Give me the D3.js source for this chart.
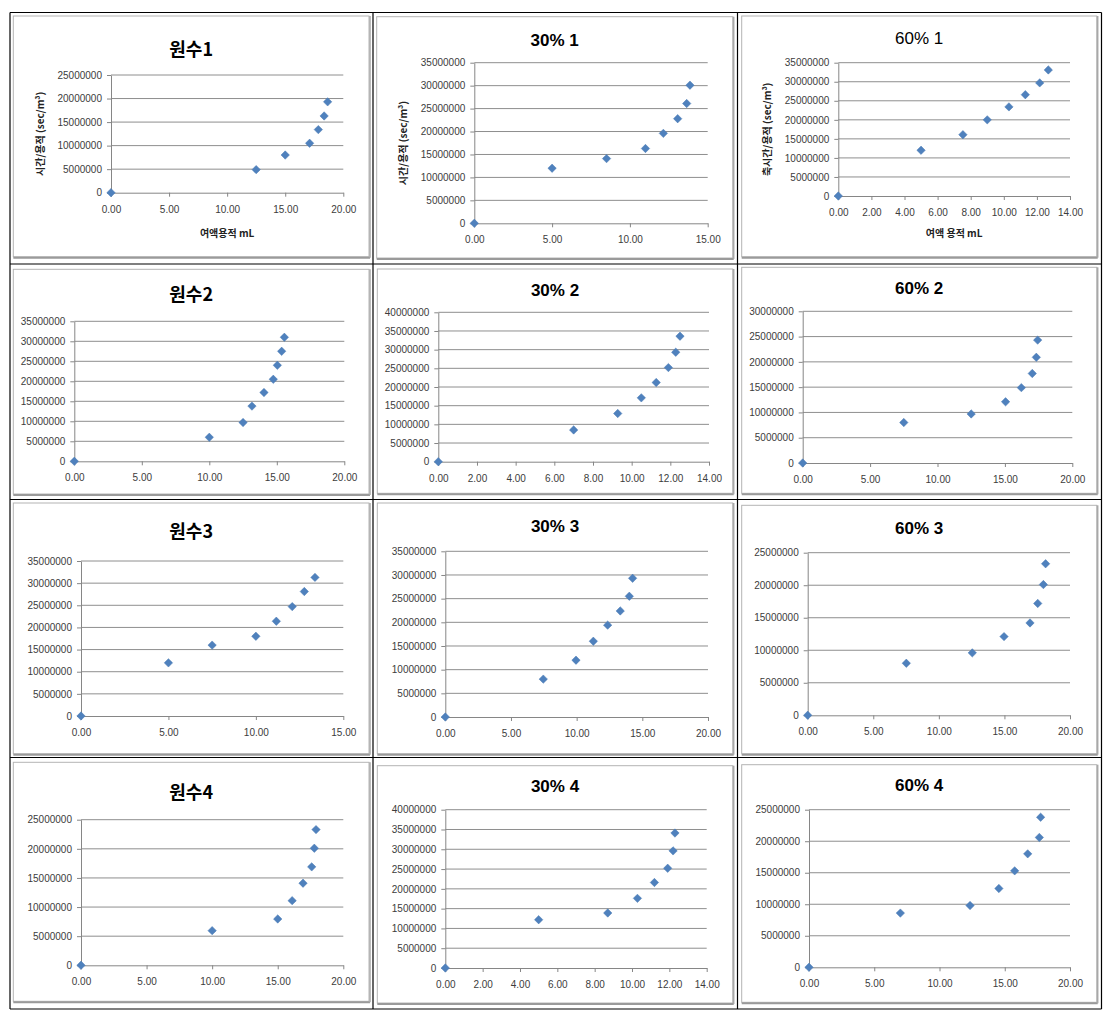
<!DOCTYPE html>
<html><head><meta charset="utf-8">
<script src="https://cdn.jsdelivr.net/npm/d3@7"></script>
<style>body{margin:0;background:#fff}svg{display:block}</style>
</head><body>
<svg id="c" width="1111" height="1015"></svg>
<script>
// ---------- DATA ----------
const titles = ["원수1","30% 1","60% 1","원수2","30% 2","60% 2","원수3","30% 3","60% 3","원수4","30% 4","60% 4"];

const w1_x = [0, 12.5, 15.0, 17.1, 17.85, 18.35, 18.65];
const w1_y = [0, 4.9e6, 8.0e6, 10.5e6, 13.4e6, 16.3e6, 19.3e6];

const c30_1_x = [0, 5.0, 8.5, 11.0, 12.15, 13.07, 13.65, 13.86];
const c30_1_y = [0, 12.0e6, 14.1e6, 16.3e6, 19.6e6, 22.8e6, 26.1e6, 30.1e6];

const c60_1_x = [0, 5.0, 7.53, 9.0, 10.31, 11.3, 12.17, 12.69];
const c60_1_y = [0, 12.0e6, 16.1e6, 20.0e6, 23.4e6, 26.6e6, 29.7e6, 33.1e6];

const w2_x = [0, 10.0, 12.5, 13.16, 14.05, 14.74, 15.04, 15.36, 15.56];
const w2_y = [0, 6.0e6, 9.7e6, 13.8e6, 17.2e6, 20.5e6, 24.0e6, 27.5e6, 31.0e6];

const c30_2_x = [0, 7.0, 9.28, 10.5, 11.27, 11.9, 12.28, 12.5];
const c30_2_y = [0, 8.5e6, 12.9e6, 17.1e6, 21.2e6, 25.2e6, 29.3e6, 33.6e6];

const c60_2_x = [0, 7.5, 12.5, 15.05, 16.22, 17.03, 17.33, 17.43];
const c60_2_y = [0, 8.0e6, 9.7e6, 12.1e6, 14.9e6, 17.7e6, 20.9e6, 24.3e6];

const w3_x = [0, 5.0, 7.5, 10.0, 11.17, 12.08, 12.77, 13.38];
const w3_y = [0, 12.0e6, 16.0e6, 18.0e6, 21.4e6, 24.7e6, 28.1e6, 31.3e6];

const c30_3_x = [0, 7.46, 9.95, 11.27, 12.36, 13.32, 14.01, 14.26];
const c30_3_y = [0, 8.0e6, 12.0e6, 16.0e6, 19.4e6, 22.4e6, 25.5e6, 29.3e6];

const c60_3_x = [0, 7.52, 12.55, 14.97, 16.95, 17.54, 17.97, 18.14];
const c60_3_y = [0, 8.0e6, 9.6e6, 12.1e6, 14.2e6, 17.2e6, 20.1e6, 23.3e6];

const w4_x = [0, 10.0, 15.0, 16.1, 16.93, 17.59, 17.79, 17.92];
const w4_y = [0, 5.95e6, 7.95e6, 11.1e6, 14.1e6, 16.9e6, 20.1e6, 23.3e6];

const c30_4_x = [0, 5.0, 8.7, 10.29, 11.2, 11.91, 12.2, 12.3];
const c30_4_y = [0, 12.2e6, 13.9e6, 17.6e6, 21.6e6, 25.2e6, 29.6e6, 34.1e6];

const c60_4_x = [0, 7.0, 12.34, 14.55, 15.76, 16.76, 17.65, 17.75];
const c60_4_y = [0, 8.6e6, 9.8e6, 12.5e6, 15.3e6, 18.0e6, 20.6e6, 23.8e6];

const seriesX = [w1_x, c30_1_x, c60_1_x, w2_x, c30_2_x, c60_2_x, w3_x, c30_3_x, c60_3_x, w4_x, c30_4_x, c60_4_x];
const seriesY = [w1_y, c30_1_y, c60_1_y, w2_y, c30_2_y, c60_2_y, w3_y, c30_3_y, c60_3_y, w4_y, c30_4_y, c60_4_y];

// axis tick settings
const xMax  = [20, 15, 14, 20, 14, 20, 15, 20, 20, 20, 14, 20];
const xStep = [5, 5, 2, 5, 2, 5, 5, 5, 5, 5, 2, 5];
const yMax  = [25e6, 35e6, 35e6, 35e6, 40e6, 30e6, 35e6, 35e6, 25e6, 25e6, 40e6, 25e6];
const yStep = 5e6;

// axis titles (only on some panels)
const yTitles = ["시간/용적 (sec/m³)", "시간/용적 (sec/m³)", "축시간/용적 (sec/m³)", null, null, null, null, null, null, null, null, null];
const xTitles = ["여액용적 mL", null, "여액 용적 mL", null, null, null, null, null, null, null, null, null];

// ---------- LAYOUT (positions only) ----------
// [chartX0, chartY0, chartX1, chartY1, plotL, plotR, plotT, plotB, titleY]
const layout = [
  [13.3, 16, 369, 256.7,    111, 343.3, 75, 192.7,     50],
  [376.7, 16.7, 732.7, 258, 474.3, 707.7, 62.7, 223.3, 40],
  [741.7, 16, 1096.7, 256.7, 838.3, 1070, 62.7, 196,   38],
  [13.3, 269.3, 369, 494,   74.3, 344.3, 321.3, 461.3, 295],
  [377.3, 269, 732.7, 493.3, 438.3, 709, 312.3, 461.7, 290],
  [741.7, 267.3, 1096.7, 493.3, 802.7, 1072.3, 311.3, 463, 288.3],
  [13.3, 503, 369, 753.7,   81, 343.3, 561, 716,       532],
  [377.3, 503, 732.7, 753.7, 445.3, 708, 551.3, 717,  526.3],
  [741.7, 505.3, 1096.7, 753.7, 807.7, 1070, 552.7, 715.3, 527.7],
  [13.3, 762.3, 369, 1001.3, 81, 343.3, 819.7, 965.3, 793],
  [377.3, 765.7, 732.7, 1003, 445.3, 706.7, 809.7, 968, 786.3],
  [741.7, 764.7, 1096.7, 1002.3, 809, 1070, 809.7, 967.3, 785.3]
];
const tableX = [10, 373, 737.5, 1101.5];
const tableY = [12.5, 264, 499.5, 757.5, 1009];

const svg = d3.select("#c");
const latin = "'Liberation Sans', Arial, 'Noto Sans CJK KR', sans-serif";
const kor = "'Noto Sans CJK KR', 'Liberation Sans', sans-serif";

titles.forEach((t, i) => {
  const [cx0, cy0, cx1, cy1, pl, pr, pt, pb, ty] = layout[i];
  const g = svg.append("g");

  // chart area border
  g.append("rect").attr("x", cx0).attr("y", cy0).attr("width", cx1 - cx0).attr("height", cy1 - cy0)
    .attr("fill", "#fff").attr("stroke", "#b4b4b4").attr("stroke-width", 1);
  g.append("line").attr("x1", cx0).attr("x2", cx1 + 1).attr("y1", cy1 + 1).attr("y2", cy1 + 1)
    .attr("stroke", "#9a9a9a").attr("stroke-width", 2);
  g.append("line").attr("x1", cx1 + 1).attr("x2", cx1 + 1).attr("y1", cy0).attr("y2", cy1 + 1)
    .attr("stroke", "#a8a8a8").attr("stroke-width", 1.5);

  const x = d3.scaleLinear().domain([0, xMax[i]]).range([pl, pr]);
  const y = d3.scaleLinear().domain([0, yMax[i]]).range([pb, pt]);
  const xt = d3.range(0, xMax[i] + 1e-9, xStep[i]);
  const yt = d3.range(0, yMax[i] + 1, yStep);

  // gridlines
  g.append("g").selectAll("line").data(yt.slice(1)).join("line")
    .attr("x1", pl).attr("x2", pr).attr("y1", d => y(d)).attr("y2", d => y(d))
    .attr("stroke", "#8e8e8e").attr("stroke-width", 1);

  // axes
  const ya = g.append("g").attr("transform", `translate(${pl},0)`)
    .call(d3.axisLeft(y).tickValues(yt).tickFormat(d3.format("d")).tickSize(4).tickSizeOuter(0).tickPadding(5));
  const xa = g.append("g").attr("transform", `translate(0,${pb})`)
    .call(d3.axisBottom(x).tickValues(xt).tickFormat(d3.format(".2f")).tickSize(4).tickSizeOuter(0).tickPadding(9));
  [ya, xa].forEach(a => {
    a.select(".domain").attr("stroke", "#868686");
    a.selectAll(".tick line").attr("stroke", "#868686");
    a.selectAll(".tick text").attr("font-family", latin).attr("font-size", 10).attr("fill", "#3c3c3c");
  });

  // title
  const isKor = /[\uAC00-\uD7AF]/.test(t);
  g.append("text").attr("x", (cx0 + cx1) / 2).attr("y", ty).attr("dy", "0.36em")
    .attr("text-anchor", "middle")
    .attr("font-family", isKor ? kor : latin)
    .attr("font-size", isKor ? 18 : 17)
    .attr("font-weight", i === 2 ? "normal" : "bold")
    .attr("fill", "#000").text(t);

  // axis titles
  if (yTitles[i]) {
    const xPos = [40, 403, 767][i];
    g.append("text").attr("transform", `translate(${xPos},${(pt + pb) / 2}) rotate(-90)`)
      .attr("dy", "0.35em").attr("text-anchor", "middle")
      .attr("font-family", kor).attr("font-size", 10).attr("font-weight", "bold").attr("fill", "#222")
      .text(yTitles[i]);
  }
  if (xTitles[i]) {
    g.append("text").attr("x", (pl + pr) / 2).attr("y", 233).attr("dy", "0.35em")
      .attr("text-anchor", "middle")
      .attr("font-family", kor).attr("font-size", 10).attr("font-weight", "bold").attr("fill", "#222")
      .text(xTitles[i]);
  }

  // markers
  const pts = seriesX[i].map((v, k) => [v, seriesY[i][k]]);
  g.append("g").selectAll("path").data(pts).join("path")
    .attr("transform", d => `translate(${x(d[0])},${y(d[1])})`)
    .attr("d", "M0,-4.2L4.2,0L0,4.2L-4.2,0Z")
    .attr("fill", "#4f81bd").attr("stroke", "#4a7ab3").attr("stroke-width", 0.5);
});

// table lines
const tg = svg.append("g").attr("stroke", "#000").attr("stroke-width", 1.2);
tableX.forEach(v => tg.append("line").attr("x1", v).attr("x2", v).attr("y1", tableY[0]).attr("y2", tableY[tableY.length - 1]));
tableY.forEach(v => tg.append("line").attr("x1", tableX[0]).attr("x2", tableX[tableX.length - 1]).attr("y1", v).attr("y2", v));
</script>
</body></html>
